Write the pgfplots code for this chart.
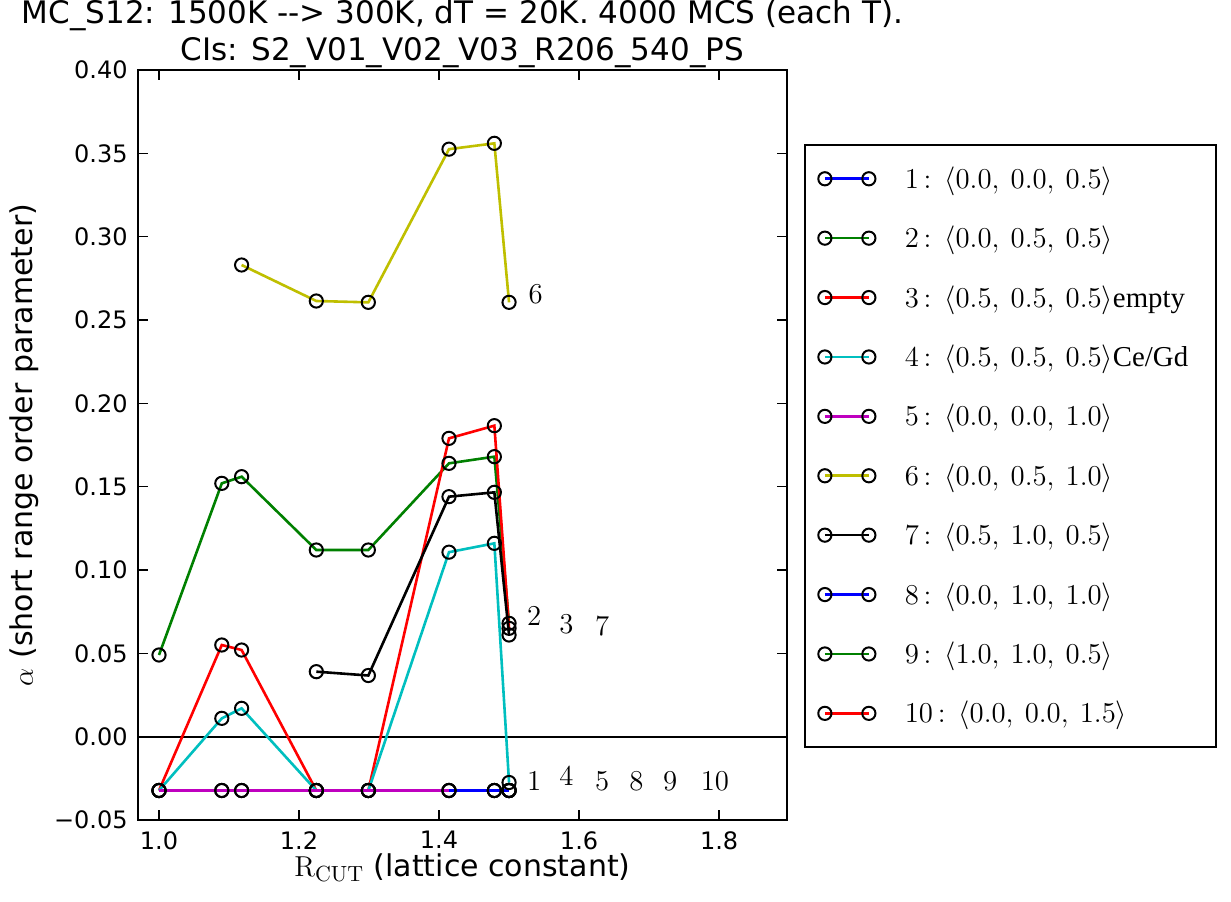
\documentclass[border=0pt]{standalone}
\usepackage[no-math]{fontspec}
\setmainfont{DejaVu Sans}
\newfontfamily\timesfont{Liberation Serif}
\usepackage{pgfplots}
\pgfplotsset{compat=1.18}
\definecolor{mplb}{rgb}{0,0,1}
\definecolor{mplg}{rgb}{0,0.5,0}
\definecolor{mplr}{rgb}{1,0,0}
\definecolor{mplc}{rgb}{0,0.75,0.75}
\definecolor{mplm}{rgb}{0.75,0,0.75}
\definecolor{mply}{rgb}{0.75,0.75,0}
\newcommand{\lgt}[3]{\makebox[148.8pt][l]{\rule[-4pt]{0pt}{15pt}$#1\,{:}\;\,\langle #2\rangle$#3}}
\newcommand{\tf}{\timesfont\fontsize{14.4}{16}\selectfont}
\begin{document}
\begin{tikzpicture}
\begin{axis}[
  scale only axis, width=324.5pt, height=375pt,
  xmin=0.97, xmax=1.897, ymin=-0.05, ymax=0.40,
  clip=false,
  axis line style={line width=1pt},
  tick pos=both, tick align=inside, major tick length=5pt,
  every tick/.style={black, line width=0.8pt},
  xtick={1.0,1.2,1.4,1.6,1.8},
  xticklabels={1.0,1.2,1.4,1.6,1.8},
  ytick={-0.05,0,0.05,0.10,0.15,0.20,0.25,0.30,0.35,0.40},
  yticklabels={−0.05,0.00,0.05,0.10,0.15,0.20,0.25,0.30,0.35,0.40},
  tick label style={font=\fontsize{12}{14}\selectfont, inner sep=0pt},
  xticklabel style={anchor=north, yshift=-5.5pt},
  yticklabel style={anchor=east, xshift=-5pt},
  every axis plot/.append style={line width=1.3pt, mark=o, mark size=3.3pt,
     mark options={draw=black, line width=1pt, fill=none, solid}},
  legend image code/.code={\draw[#1] plot coordinates {(0pt,0pt) (22pt,0pt)};},
  legend cell align=left,
  legend style={at={(1.026,0.901)}, anchor=north west, draw=black, line width=1pt,
     inner xsep=6.7pt, inner ysep=10.5pt, row sep=17.2pt, column sep=14.7pt,
     nodes={inner sep=0pt}, font=\fontsize{15.5}{18}\selectfont},
]
\draw[black, line width=1pt] (axis cs:0.97,0) -- (axis cs:1.897,0);
\addplot[mplb] coordinates {(1.0,-0.0323) (1.0897,-0.0323) (1.1180,-0.0323) (1.2247,-0.0323) (1.2990,-0.0323) (1.4142,-0.0323) (1.4790,-0.0323) (1.5,-0.0323)};
\addlegendentry{\lgt{1}{0.0,\:0.0,\:0.5}{}}
\addplot[mplg] coordinates {(1.0,0.049) (1.0897,0.152) (1.1180,0.156) (1.2247,0.112) (1.2990,0.112) (1.4142,0.164) (1.4790,0.168) (1.5,0.068)};
\addlegendentry{\lgt{2}{0.0,\:0.5,\:0.5}{}}
\addplot[mplr] coordinates {(1.0,-0.0323) (1.0897,0.055) (1.1180,0.052) (1.2247,-0.0323) (1.2990,-0.0323) (1.4142,0.179) (1.4790,0.1866) (1.5,0.065)};
\addlegendentry{\lgt{3}{0.5,\:0.5,\:0.5}{\tf empty}}
\addplot[mplc] coordinates {(1.0,-0.0323) (1.0897,0.011) (1.1180,0.017) (1.2247,-0.0323) (1.2990,-0.0323) (1.4142,0.1107) (1.4790,0.116) (1.5,-0.0275)};
\addlegendentry{\lgt{4}{0.5,\:0.5,\:0.5}{\tf Ce/Gd}}
\addplot[mplm] coordinates {(1.0,-0.0323) (1.0897,-0.0323) (1.1180,-0.0323) (1.2247,-0.0323) (1.2990,-0.0323) (1.4142,-0.0323) (1.4790,-0.0323) (1.5,-0.0323)};
\addlegendentry{\lgt{5}{0.0,\:0.0,\:1.0}{}}
\addplot[mply] coordinates {(1.1180,0.283) (1.2247,0.2614) (1.2990,0.2606) (1.4142,0.3525) (1.4790,0.356) (1.5,0.2606)};
\addlegendentry{\lgt{6}{0.0,\:0.5,\:1.0}{}}
\addplot[black] coordinates {(1.2247,0.039) (1.2990,0.0367) (1.4142,0.144) (1.4790,0.1466) (1.5,0.061)};
\addlegendentry{\lgt{7}{0.5,\:1.0,\:0.5}{}}
\addplot[mplb] coordinates {(1.4142,-0.0323) (1.4790,-0.0323) (1.5,-0.0323)};
\addlegendentry{\lgt{8}{0.0,\:1.0,\:1.0}{}}
\addplot[mplg] coordinates {(1.5,-0.0323)};
\addlegendentry{\lgt{9}{1.0,\:1.0,\:0.5}{}}
\addplot[mplr] coordinates {(1.5,-0.0323)};
\addlegendentry{\lgt{10}{0.0,\:0.0,\:1.5}{}}
\begin{scope}[every node/.style={font=\fontsize{14}{16}\selectfont}]
\node at (axis cs:1.538,0.2656) {$6$};
\node at (axis cs:1.536,0.0723) {$2$};
\node at (axis cs:1.582,0.0675) {$3$};
\node at (axis cs:1.633,0.0663) {$7$};
\node at (axis cs:1.536,-0.027) {$1$};
\node at (axis cs:1.582,-0.0235) {$4$};
\node at (axis cs:1.633,-0.027) {$5$};
\node at (axis cs:1.682,-0.027) {$8$};
\node at (axis cs:1.730,-0.027) {$9$};
\node at (axis cs:1.794,-0.027) {$10$};
\end{scope}
\coordinate (O) at (rel axis cs:0,0);
\coordinate (tc) at (rel axis cs:0.5,1);
\coordinate (bc) at (rel axis cs:0.5,0);
\coordinate (ml) at (rel axis cs:0,0.5);
\end{axis}
\path (tc) ++(0,23pt) node[anchor=base, font=\fontsize{15.5}{18}\selectfont] {MC\_S12: 1500K -{}-> 300K, dT = 20K. 4000 MCS (each T).};
\path (tc) ++(0,5pt) node[anchor=base, font=\fontsize{15.5}{18}\selectfont] {CIs: S2\_V01\_V02\_V03\_R206\_540\_PS};
\path (bc) ++(0,-28pt) node[anchor=base, font=\fontsize{15}{18}\selectfont] {$\mathrm{R}_{\mathrm{CUT}}$ (lattice constant)};
\path (ml) ++(-52.5pt,0) node[rotate=90, anchor=base, font=\fontsize{15}{18}\selectfont] {$\alpha$ (short range order parameter)};
\pgfresetboundingbox
\useasboundingbox (O) ++(-69pt,-40.5pt) rectangle ++(615.5pt,450.5pt);
\end{tikzpicture}
\end{document}
